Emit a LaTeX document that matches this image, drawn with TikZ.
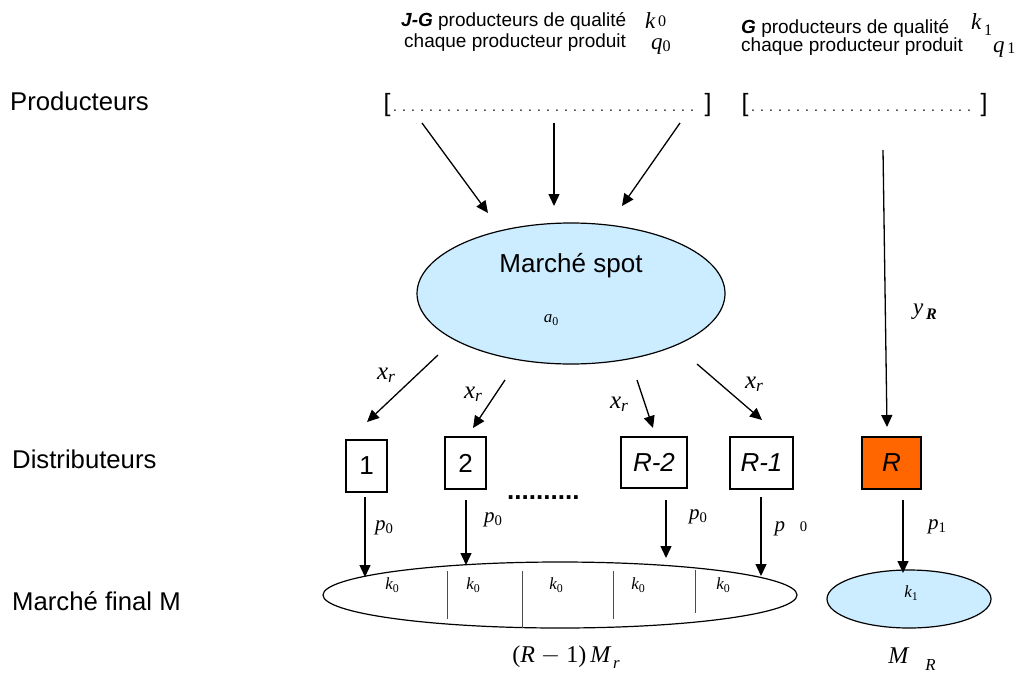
\documentclass[tikz,border=0pt]{standalone}
\usepackage{fontspec}
\setmainfont{Liberation Sans}
\newfontfamily\tms{Liberation Serif}
\usetikzlibrary{shapes.geometric,arrows.meta}
\definecolor{spotblue}{RGB}{204,236,255}
\definecolor{rorange}{RGB}{255,102,0}
\newcommand{\spacedots}[1]{\makebox[#1]{\fontsize{14}{16}\selectfont\leaders\hbox to 9pt{\hss.\hss}\hfill}}
% italic variable with a small subscript: [drop]{letter}{subscript}
\newcommand{\sv}[3][0.3ex]{{\itshape #2}\raisebox{-#1}{\scalebox{0.7}{\upshape #3}}}
\begin{document}
\begin{tikzpicture}[x=1pt,y=-1pt,
  arr/.style={draw=black, line width=1.3pt, -{Triangle[length=12pt,width=11pt]}},
  sidelbl/.style={font=\fontsize{25.7}{30}\selectfont, inner sep=0pt, anchor=west},
  toptxt/.style={font=\fontsize{19}{22}\selectfont, inner sep=0pt, anchor=base west},
  topmath/.style={font=\tms\fontsize{23}{25}\selectfont, inner sep=0pt, anchor=base west},
  brk/.style={font=\fontsize{25}{30}\selectfont, inner sep=0pt},
  distbox/.style={draw=black, line width=1.2pt, inner sep=0pt, font=\fontsize{26}{30}\selectfont},
  mktell/.style={ellipse, draw=black, line width=1.2pt, inner sep=0pt},
  xlbl/.style={font=\tms\fontsize{25}{27}\selectfont, inner sep=0pt},
  plbl/.style={font=\tms\fontsize{21}{23}\selectfont, inner sep=0pt},
  klbl/.style={font=\tms\fontsize{17}{19}\selectfont, inner sep=0pt},
  botlbl/.style={font=\tms\fontsize{24}{28}\selectfont, inner sep=0pt},
  divline/.style={draw=black!70, line width=0.8pt}
]
\useasboundingbox (0,0) rectangle (1016,672);

% side labels
\node[sidelbl] (prodlbl) at (10,101) {Producteurs};
\node[sidelbl] (distlbl) at (12,459) {Distributeurs};
\node[sidelbl] (finlbl) at (12,601) {Marché final M};

% top texts
\node[toptxt] (t0a) at (401,26) {\textbf{\textit{J-G}} producteurs de qualité};
\node[topmath] (t0k) at (645,28) {\sv[-0.1ex]{k}{\,0}};
\node[toptxt] (t0b) at (404,47) {chaque producteur produit};
\node[topmath] (t0q) at (651,49) {\sv[0.2ex]{q}{0}};
\node[toptxt] (t1a) at (741,33) {\textbf{\textit{G}} producteurs de qualité};
\node[topmath] (t1k) at (971,29) {\sv[0.6ex]{k}{\,1}};
\node[toptxt] (t1b) at (741,51) {chaque producteur produit};
\node[topmath] (t1q) at (993,52) {\sv[0.1ex]{q}{\,1}};

% producer brackets
\node[brk] (br0) at (547.5,105) {[\spacedots{314pt}]};
\node[brk] (br1) at (864.5,105) {[\spacedots{232pt}]};

% spot market
\node[mktell, fill=spotblue, minimum width=308pt, minimum height=141pt] (spot) at (571,293.5) {};
\node[font=\fontsize{26}{30}\selectfont, inner sep=0pt] (spotlbl) at (571,266) {Marché spot};
\node[klbl] (a0) at (551,320) {\sv{a}{0}};

% distributors
\node[distbox, minimum width=41pt, minimum height=52pt] (b1) at (366.5,466) {1};
\node[distbox, minimum width=41pt, minimum height=52pt] (b2) at (465.5,463) {2};
\node[distbox, minimum width=66pt, minimum height=51pt] (bR2) at (654,462.5) {\textit{R-2}};
\node[distbox, minimum width=63pt, minimum height=52pt] (bR1) at (761.5,463) {\textit{R-1}};
\node[distbox, fill=rorange, minimum width=59pt, minimum height=52pt] (bR) at (891.5,463) {\textit{R}};
\node[font=\fontsize{26}{30}\selectfont\bfseries, inner sep=0pt, anchor=base west] (ddots) at (507,499) {..........};

% final markets
\node[mktell, fill=white, minimum width=474pt, minimum height=66pt] (fin) at (560,595) {};
\node[mktell, fill=spotblue, minimum width=164pt, minimum height=58pt] (finR) at (909,599) {};
\draw[divline] (447,571) -- (447,619);
\draw[divline] (522,571) -- (522,627.5);
\draw[divline] (613,571) -- (613,619);
\draw[divline] (695,570) -- (695,613);

% coordinates for arrows
\coordinate (s1) at (422,123); \coordinate (e1) at (488,213);
\coordinate (s2) at (554,123); \coordinate (e2) at (554,206);
\coordinate (s3) at (680,123); \coordinate (e3) at (622,206);
\coordinate (s4) at (883,150); \coordinate (e4) at (887,427);
\coordinate (m1s) at (438,355); \coordinate (m1e) at (367,422);
\coordinate (m2s) at (505,380); \coordinate (m2e) at (473,428);
\coordinate (m3s) at (637,380); \coordinate (m3e) at (653,428);
\coordinate (m4s) at (697,364); \coordinate (m4e) at (762,420);
\coordinate (d1s) at (365,497); \coordinate (d1e) at (365,577);
\coordinate (d2s) at (466,500); \coordinate (d2e) at (466,565);
\coordinate (d3s) at (666,500); \coordinate (d3e) at (666,558);
\coordinate (d4s) at (761,497); \coordinate (d4e) at (761,576);
\coordinate (d5s) at (903,500); \coordinate (d5e) at (903,573);

\draw[arr] (s1) -- (e1);
\draw[arr] (s2) -- (e2);
\draw[arr] (s3) -- (e3);
\draw[arr] (s4) -- (e4);
\draw[arr] (m1s) -- (m1e);
\draw[arr] (m2s) -- (m2e);
\draw[arr] (m3s) -- (m3e);
\draw[arr] (m4s) -- (m4e);
\draw[arr] (d1s) -- (d1e);
\draw[arr] (d2s) -- (d2e);
\draw[arr] (d3s) -- (d3e);
\draw[arr] (d4s) -- (d4e);
\draw[arr] (d5s) -- (d5e);

% arrow labels
\node[xlbl] (x1) at (386,375) {\sv{x}{\itshape r}};
\node[xlbl] (x2) at (473,394) {\sv{x}{\itshape r}};
\node[xlbl] (x3) at (619,404) {\sv{x}{\itshape r}};
\node[xlbl] (x4) at (754,384) {\sv{x}{\itshape r}};
\node[xlbl, font=\tms\fontsize{23}{25}\selectfont] (yR) at (925,312) {\sv[0.4ex]{y}{\,\bfseries\itshape R}};
\node[plbl] (p1) at (384,528) {\sv{p}{0}};
\node[plbl] (p2) at (493,520) {\sv{p}{0}};
\node[plbl] (p3) at (698,517) {\sv{p}{0}};
\node[plbl] (p4) at (791,529) {\sv[0ex]{p}{\quad 0}};
\node[plbl] (p5) at (937,527) {\sv{p}{1}};

% market labels
\node[klbl] (k1) at (392,585) {\sv{k}{0}};
\node[klbl] (k2) at (473,585) {\sv{k}{0}};
\node[klbl] (k3) at (556,585) {\sv{k}{0}};
\node[klbl] (k4) at (638,585) {\sv{k}{0}};
\node[klbl] (k5) at (723,585) {\sv{k}{0}};
\node[klbl] (k6) at (911,593) {\sv{k}{1}};
\node[botlbl] (mr) at (566,657) {(\textit{R} $-$ 1)\,\sv[0.5ex]{M}{\,\itshape r}};
\node[botlbl] (mR) at (912,659) {\sv[0.6ex]{M}{\quad\itshape R}};
\end{tikzpicture}
\end{document}
